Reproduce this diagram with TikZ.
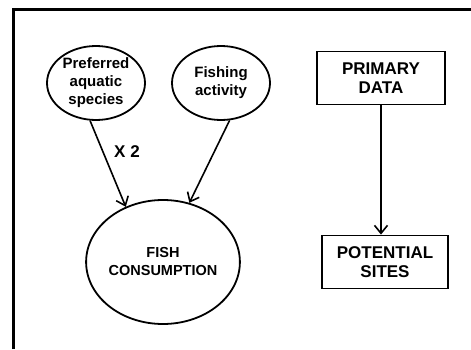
\documentclass[tikz,border=0pt]{standalone}
\usepackage{fontspec}
\setmainfont{Liberation Sans}
\usetikzlibrary{shapes.geometric}
\usetikzlibrary{arrows.meta}

\begin{document}
\begin{tikzpicture}[x=1pt,y=1pt]
	\tikzset{bubble/.style={draw,ellipse,line width=1.8pt,inner sep=0pt,align=center,font=\bfseries\fontsize{15}{18}\selectfont}}
	\tikzset{databox/.style={draw,rectangle,line width=1.8pt,inner sep=0pt,align=center,minimum height=53pt,font=\bfseries\fontsize{17}{19}\selectfont}}
	\tikzset{flow/.style={line width=1.6pt,-{Straight Barb[length=8pt,width=13pt,line width=1.6pt]}}}
	
	\useasboundingbox (0,0) rectangle (471,349);
	
	% Frame (left and top edges only)
	\draw[line width=3pt] (13,0) -- (13,339) -- (471,339);
	
	% Inputs
	\node[bubble,minimum width=98pt,minimum height=74pt] (species) at (96,266) {Preferred\\aquatic\\species};
	\node[bubble,minimum width=98pt,minimum height=74pt] (fishing) at (221,266) {Fishing\\activity};
	
	% Result
	\node[bubble,minimum width=136pt,minimum height=124pt,font=\bfseries\fontsize{14.5}{18}\selectfont] (consumption) at (163,87) {FISH\\CONSUMPTION};
	
	% Boxes on the right
	\node[databox,minimum width=128pt] (primary) at (381,271) {PRIMARY\\DATA};
	\node[databox,minimum width=126pt] (sites) at (385,87) {POTENTIAL\\SITES};
	
	% Arrows
	\draw[flow] (species.261) -- (consumption.124);
	\draw[flow] (fishing.283) -- (consumption.66);
	\draw[flow] (primary.south) -- (primary.south |- sites.north);
	
	\node[font=\bfseries\fontsize{17}{19}\selectfont] (factor) at (127,197) {X 2};
	
\end{tikzpicture}
\end{document}
